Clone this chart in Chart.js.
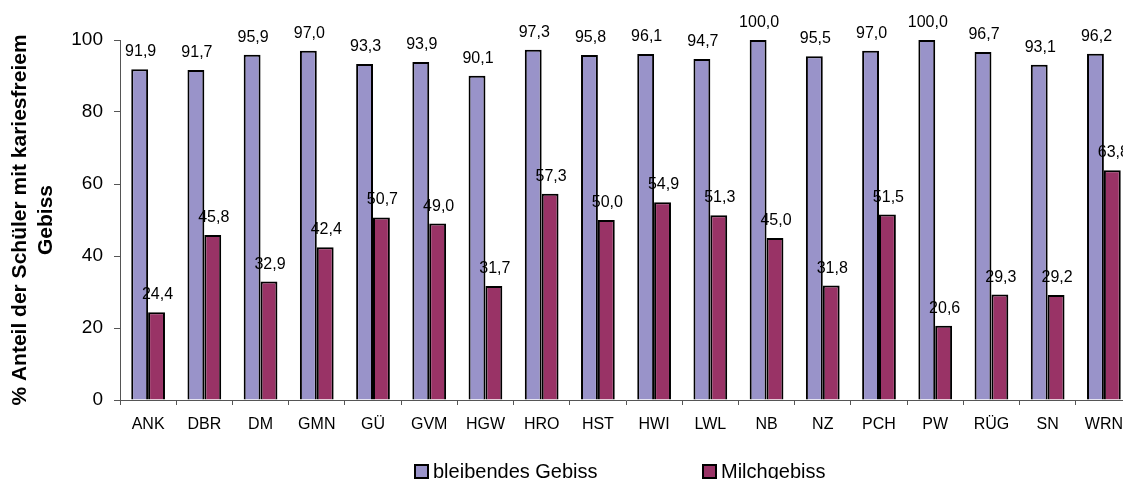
<!DOCTYPE html>
<html>
<head>
<meta charset="utf-8">
<script src="https://cdn.jsdelivr.net/npm/chart.js@4/dist/chart.umd.min.js"></script>
<style>
  html, body { margin: 0; padding: 0; background: #fff; overflow: hidden; width: 1123px; height: 479px; }
  #wrap { position: absolute; left: 0; top: 0; width: 1150px; height: 479px; }
  .leg { position: absolute; top: 459px; font: 20px "Liberation Sans", Arial, sans-serif; color: #000; white-space: nowrap; line-height: 24px; }
  .leg i { display: inline-block; width: 11px; height: 11px; border: 2px solid #000; vertical-align: -1px; margin-right: 4px; }
</style>
</head>
<body>
<div id="wrap"><canvas id="c" width="1150" height="479"></canvas></div>
<div class="leg" style="left:414px"><i style="background:#9993C9"></i>bleibendes Gebiss</div>
<div class="leg" style="left:702px"><i style="background:#993366"></i>Milchgebiss</div>
<script>
const categories = ["ANK","DBR","DM","GMN","GÜ","GVM","HGW","HRO","HST","HWI","LWL","NB","NZ","PCH","PW","RÜG","SN","WRN"];
const bleibendes = [91.9,91.7,95.9,97.0,93.3,93.9,90.1,97.3,95.8,96.1,94.7,100.0,95.5,97.0,100.0,96.7,93.1,96.2];
const milch = [24.4,45.8,32.9,42.4,50.7,49.0,31.7,57.3,50.0,54.9,51.3,45.0,31.8,51.5,20.6,29.3,29.2,63.8];
const yTicks = [0,20,40,60,80,100];
const seriesNames = ["bleibendes Gebiss","Milchgebiss"];
const yTitle = ["% Anteil der Schüler mit kariesfreiem","Gebiss"];

const FONT = '"Liberation Sans", Arial, sans-serif';

const labelPlugin = {
  id: 'valueLabels',
  afterDatasetsDraw(chart) {
    const ctx = chart.ctx;
    ctx.save();
    ctx.font = '16px ' + FONT;
    ctx.fillStyle = '#000';
    ctx.textAlign = 'center';
    ctx.textBaseline = 'alphabetic';
    chart.data.datasets.forEach((ds, di) => {
      const meta = chart.getDatasetMeta(di);
      meta.data.forEach((bar, i) => {
        const txt = ds.data[i].toFixed(1).replace('.', ',');
        ctx.fillText(txt, bar.x + 1, bar.y - 13);
      });
    });
    ctx.restore();
  }
};

new Chart(document.getElementById('c'), {
  type: 'bar',
  data: {
    labels: categories,
    datasets: [
      { label: seriesNames[0], data: bleibendes, backgroundColor: '#9993C9', borderColor: '#000', borderWidth: 2 },
      { label: seriesNames[1], data: milch, backgroundColor: '#993366', borderColor: '#000', borderWidth: 2 }
    ]
  },
  options: {
    responsive: false,
    animation: false,
    events: [],
    layout: { padding: { left: 0, right: 18, top: 40, bottom: 0 } },
    datasets: { bar: { categoryPercentage: 0.6, barPercentage: 1.0 } },
    plugins: { legend: { display: false }, tooltip: { enabled: false } },
    scales: {
      x: {
        grid: { display: true, drawOnChartArea: false, offset: true, tickLength: 5, color: '#555' },
        border: { color: '#555' },
        ticks: { font: { family: FONT, size: 16 }, color: '#000', padding: 10, maxRotation: 0, autoSkip: false },
        afterFit(s) { s.height = 79; }
      },
      y: {
        min: 0, max: 100,
        afterBuildTicks(s) { s.ticks = yTicks.map(v => ({ value: v })); },
        grid: { display: true, drawOnChartArea: false, tickLength: 6, color: '#555' },
        border: { color: '#555' },
        ticks: { font: { family: FONT, size: 19 }, color: '#000', padding: 11 },
        title: { display: true, text: yTitle, font: { family: FONT, size: 21, weight: 'bold', lineHeight: 1.24 }, color: '#000', padding: { top: 7, bottom: 0 } },
        afterFit(s) { s.width = 120; }
      }
    }
  },
  plugins: [labelPlugin]
});
</script>
</body>
</html>
